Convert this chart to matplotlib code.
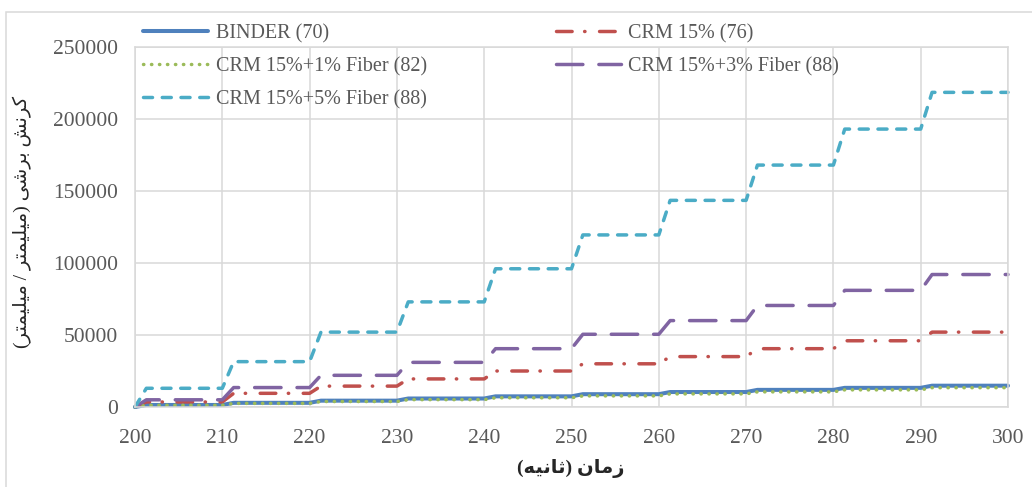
import matplotlib
matplotlib.use("Agg")
import matplotlib.pyplot as plt
from matplotlib.patches import Rectangle

# ── data: plateau level after each 10 s step ──
STEP_TIMES = [200, 210, 220, 230, 240, 250, 260, 270, 280, 290]
END_TIME = 300
RAMP = 1.3  # seconds each step takes to rise

SERIES_NAMES = [
    "BINDER (70)",
    "CRM 15% (76)",
    "CRM 15%+1% Fiber (82)",
    "CRM 15%+3% Fiber (88)",
    "CRM 15%+5% Fiber (88)",
]
BINDER = [1400, 2900, 4400, 5900, 7400, 8900, 10400, 11900, 13300, 14800]
CRM15 = [3500, 9500, 14500, 19500, 25000, 30000, 35000, 40500, 46000, 52000]
CRM15_F1 = [1200, 2500, 3800, 5100, 6400, 7700, 9100, 10500, 11900, 13400]
CRM15_F3 = [5000, 13500, 22000, 31000, 40500, 50500, 60000, 70500, 81000, 92000]
CRM15_F5 = [13000, 31500, 52000, 73000, 96000, 119500, 143500, 168000, 193000, 218500]

Y_TICKS = [0, 50000, 100000, 150000, 200000, 250000]
X_TICKS = [200, 210, 220, 230, 240, 250, 260, 270, 280, 290, 300]

Y_LABEL = "کرنش برشی (میلیمتر / میلیمتر)"
X_LABEL = "زمان (ثانیه)"

# matplotlib 3.10 does no Arabic shaping, so pick presentation forms by hand
# letter -> (isolated, final, initial, medial); right-joining letters have no initial/medial
FORMS = {
    "ا": ("\uFE8D", "\uFE8E", None, None),
    "ر": ("\uFEAD", "\uFEAE", None, None),
    "ز": ("\uFEAF", "\uFEB0", None, None),
    "ب": ("\uFE8F", "\uFE90", "\uFE91", "\uFE92"),
    "ت": ("\uFE95", "\uFE96", "\uFE97", "\uFE98"),
    "ث": ("\uFE99", "\uFE9A", "\uFE9B", "\uFE9C"),
    "ش": ("\uFEB5", "\uFEB6", "\uFEB7", "\uFEB8"),
    "ل": ("\uFEDD", "\uFEDE", "\uFEDF", "\uFEE0"),
    "م": ("\uFEE1", "\uFEE2", "\uFEE3", "\uFEE4"),
    "ن": ("\uFEE5", "\uFEE6", "\uFEE7", "\uFEE8"),
    "ه": ("\uFEE9", "\uFEEA", "\uFEEB", "\uFEEC"),
    "ک": ("\uFB8E", "\uFB8F", "\uFB90", "\uFB91"),
    "ی": ("\uFBFC", "\uFBFD", "\uFBFE", "\uFBFF"),
}


def shape_fa(text):
    """Shape Persian text and put it in visual (left-to-right) order."""
    out = []
    for i, ch in enumerate(text):
        forms = FORMS.get(ch)
        if forms is None:
            out.append(ch)
            continue
        prev = text[i - 1] if i > 0 else ""
        nxt = text[i + 1] if i + 1 < len(text) else ""
        join_prev = prev in FORMS and FORMS[prev][2] is not None
        join_next = forms[2] is not None and nxt in FORMS
        iso, fin, ini, med = forms
        if join_prev and join_next:
            out.append(med)
        elif join_prev:
            out.append(fin)
        elif join_next:
            out.append(ini)
        else:
            out.append(iso)
    visual = "".join(reversed(out))
    return visual.translate(str.maketrans("()", ")("))


def step_curve(levels):
    xs, ys = [STEP_TIMES[0]], [0]
    for i, level in enumerate(levels):
        end = STEP_TIMES[i + 1] if i + 1 < len(STEP_TIMES) else END_TIME
        xs += [STEP_TIMES[i] + RAMP, end]
        ys += [level, level]
    return xs, ys


plt.rcParams["font.family"] = ["Liberation Serif", "DejaVu Sans"]
TEXT_GRAY = "#595959"
GRID = "#d9d9d9"

fig = plt.figure(figsize=(10.32, 4.87), dpi=100)
ax = fig.add_axes([135 / 1032, 1 - 407 / 487, (1008 - 135) / 1032, (407 - 47) / 487])

styles = [
    dict(color="#4F81BD", lw=2.9, ls="-"),
    dict(color="#C0504D", lw=2.5, dashes=(4.5, 3.6, 0.1, 4.2)),
    dict(color="#9BBB59", lw=2.5, dashes=(0.1, 2.2)),
    dict(color="#8064A2", lw=2.5, dashes=(7.6, 4.6)),
    dict(color="#4BACC6", lw=2.5, dashes=(2.6, 2.8)),
]
all_series = [BINDER, CRM15, CRM15_F1, CRM15_F3, CRM15_F5]
lines = []
for name, values, st in zip(SERIES_NAMES, all_series, styles):
    xs, ys = step_curve(values)
    (ln,) = ax.plot(xs, ys, label=name, solid_capstyle="round", dash_capstyle="round",
                    solid_joinstyle="round", clip_on=False, **st)
    lines.append(ln)

ax.set_xlim(200, 300)
ax.set_ylim(0, 250000)
ax.set_xticks(X_TICKS)
ax.set_yticks(Y_TICKS)
ax.grid(True, color=GRID, lw=1.1)
ax.set_axisbelow(True)
for sp in ax.spines.values():
    sp.set_color(GRID)
    sp.set_linewidth(1.1)
ax.tick_params(length=0, labelsize=15.5, labelcolor=TEXT_GRAY)
ax.tick_params(axis="y", pad=12)
ax.tick_params(axis="x", pad=15.5)

# legend columns fill top-down, so reorder to match the 2-column layout
order = [0, 2, 4, 1, 3]
fig.legend([lines[i] for i in order], [SERIES_NAMES[i] for i in order],
           ncol=2, loc="upper left", bbox_to_anchor=(143 / 1032, 1 - 24 / 487),
           frameon=False, fontsize=14.5, labelcolor=TEXT_GRAY, handlelength=3.25,
           handletextpad=0.35, columnspacing=6.4, labelspacing=0.68,
           borderpad=0, borderaxespad=0)

fig.text(22 / 1032, 1 - 222 / 487, shape_fa(Y_LABEL), rotation=90, ha="center",
         va="center", fontsize=14, color="#262626")
fig.text(571 / 1032, 1 - 468 / 487, shape_fa(X_LABEL), ha="center", va="center",
         fontsize=14, fontweight="bold", color="#262626")

# thin chart-area border, Excel style
fig.patches.append(Rectangle((6 / 1032, -0.1), 1.2, 1 - 12 / 487 + 0.1,
                             transform=fig.transFigure, fill=False,
                             edgecolor=GRID, lw=1.1))

fig.savefig("out.png", dpi=100)
